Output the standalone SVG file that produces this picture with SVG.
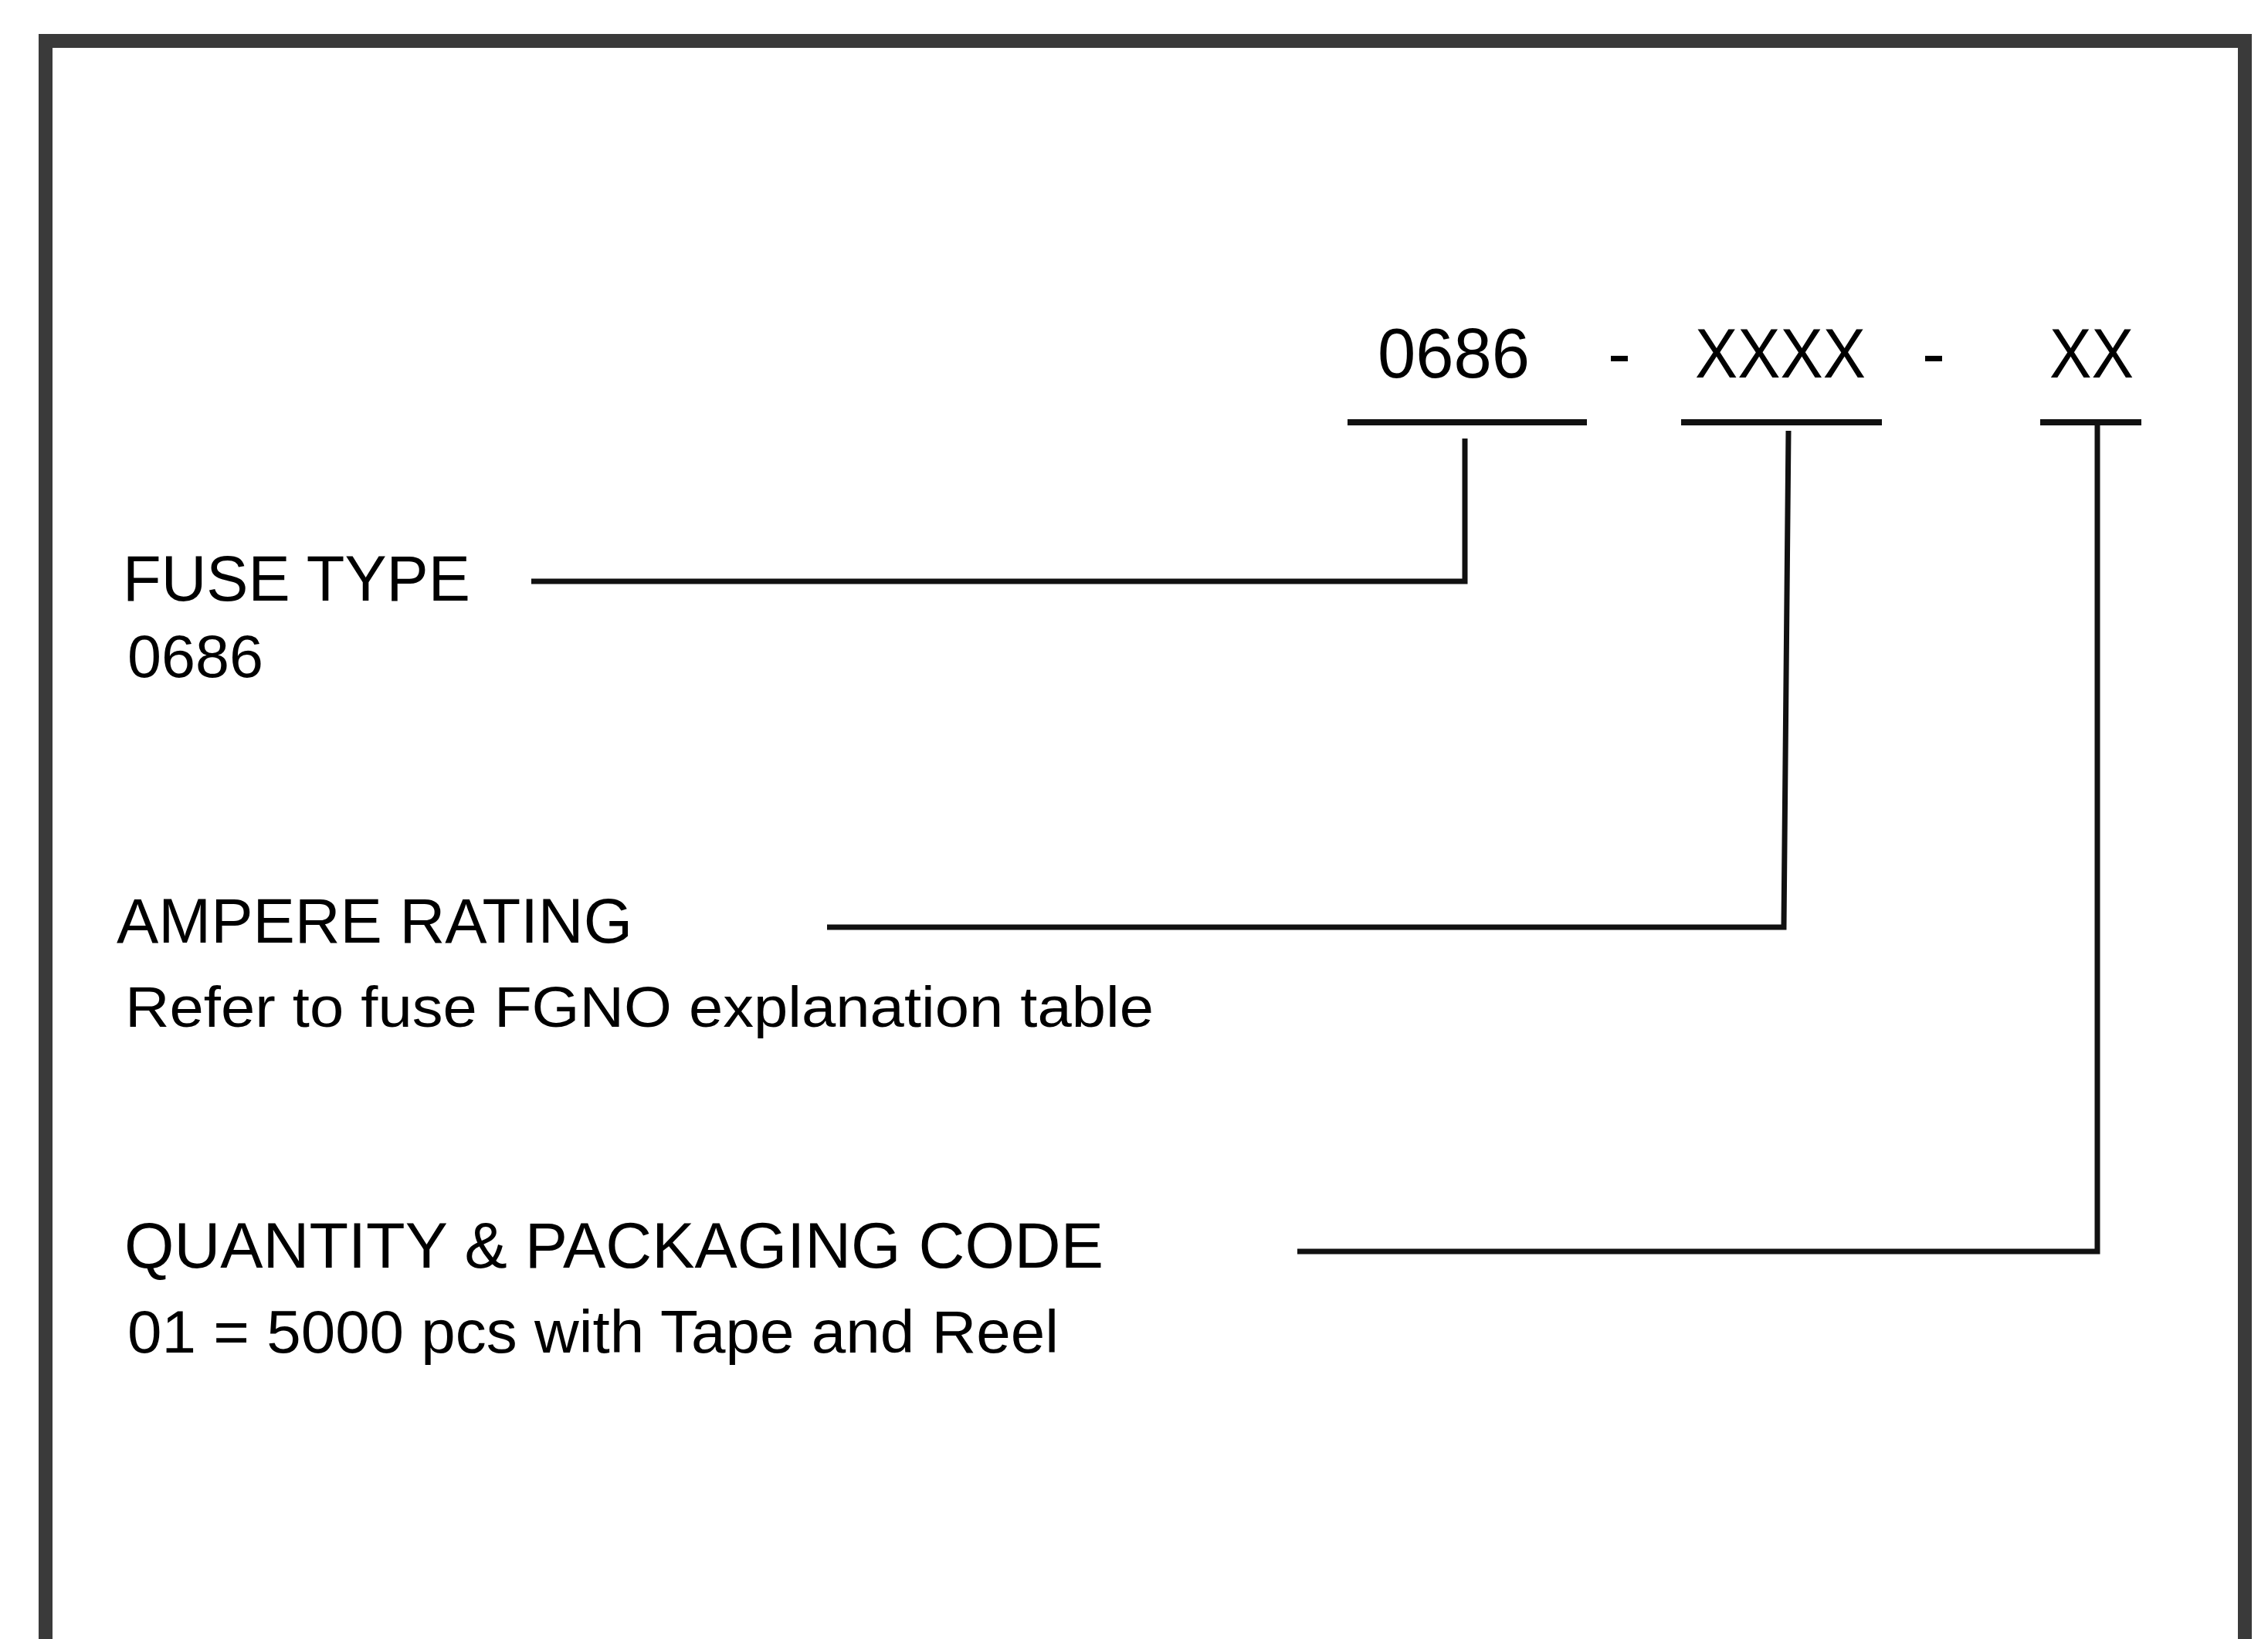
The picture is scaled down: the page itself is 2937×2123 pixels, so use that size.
<svg xmlns="http://www.w3.org/2000/svg" width="2937" height="2123" viewBox="0 0 2937 2123">
<style>
.t{font-family:"Liberation Sans",Arial,Helvetica,sans-serif;fill:#000}
.ul{stroke:#111;stroke-width:8;fill:none}
.cn{stroke:#111;stroke-width:7;fill:none;stroke-linejoin:miter}
</style>
<rect width="2937" height="2123" fill="#fff"/>
<g id="frame">
<path d="M59,2140 V53 H2907 V2140" fill="none" stroke="#3a3a3a" stroke-width="18"/>
</g>
<g id="partnumber">
<text class="t" x="1784" y="489" font-size="90" textLength="197" lengthAdjust="spacingAndGlyphs">0686</text>
<text class="t" x="2082" y="489" font-size="90">-</text>
<text class="t" x="2195" y="489" font-size="90" textLength="221" lengthAdjust="spacingAndGlyphs">XXXX</text>
<text class="t" x="2489" y="489" font-size="90">-</text>
<text class="t" x="2654" y="489" font-size="90" textLength="109" lengthAdjust="spacingAndGlyphs">XX</text>
<line class="ul" x1="1745" y1="547" x2="2055" y2="547"/>
<line class="ul" x1="2177" y1="547" x2="2437" y2="547"/>
<line class="ul" x1="2642" y1="547" x2="2773" y2="547"/>
</g>
<g id="fuse-type">
<text class="t" x="159" y="778" font-size="84" textLength="450" lengthAdjust="spacingAndGlyphs">FUSE TYPE</text>
<text class="t" x="165" y="877" font-size="77" textLength="176" lengthAdjust="spacingAndGlyphs">0686</text>
</g>
<g id="ampere-rating">
<text class="t" x="151" y="1221" font-size="82" textLength="668" lengthAdjust="spacingAndGlyphs">AMPERE RATING</text>
<text class="t" x="162" y="1330" font-size="74" textLength="1332" lengthAdjust="spacingAndGlyphs">Refer to fuse FGNO explanation table</text>
</g>
<g id="quantity-packaging">
<text class="t" x="161" y="1642" font-size="84" textLength="1268" lengthAdjust="spacingAndGlyphs">QUANTITY &amp; PACKAGING CODE</text>
<text class="t" x="165" y="1752" font-size="78" textLength="1206" lengthAdjust="spacingAndGlyphs">01 = 5000 pcs with Tape and Reel</text>
</g>
<g id="connectors">
<path class="cn" d="M1897,568 V753 H688"/>
<path class="cn" d="M2316,558 L2310,1201 H1071"/>
<path class="cn" d="M2716,547 V1621 H1680"/>
</g>
</svg>
